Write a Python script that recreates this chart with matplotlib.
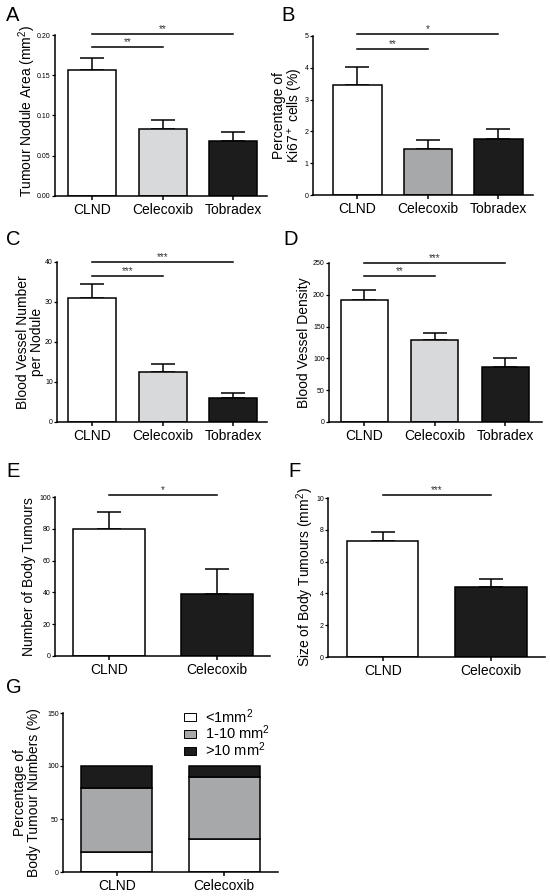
import numpy as np
import matplotlib.pyplot as plt
from matplotlib.patches import Patch

plt.rcParams['font.family'] = ['Liberation Sans', 'DejaVu Sans']
plt.rcParams['mathtext.fontset'] = 'custom'
plt.rcParams['mathtext.rm'] = 'Liberation Sans'
plt.rcParams['mathtext.it'] = 'Liberation Sans:italic'

# data
groups3 = ['CLND', 'Celecoxib', 'Tobradex']
groups2 = ['CLND', 'Celecoxib']

area_mean = [0.156, 0.083, 0.068]
area_err = [0.016, 0.012, 0.011]

ki67_mean = [3.45, 1.45, 1.75]
ki67_err = [0.58, 0.27, 0.32]

vessel_num_mean = [31.0, 12.5, 6.0]
vessel_num_err = [3.5, 2.0, 1.3]

vessel_dens_mean = [192, 129, 86]
vessel_dens_err = [16, 11, 15]

body_num_mean = [80, 39]
body_num_err = [10.5, 16]

body_size_mean = [7.3, 4.4]
body_size_err = [0.55, 0.52]

small_pct = [19, 31]
mid_pct = [60, 59]
large_pct = [21, 10]

W, H = 550, 896
fig = plt.figure(figsize=(W / 100, H / 100), dpi=100)

WHITE = '#ffffff'
LIGHT = '#d8d9da'
MIDG = '#a7a8aa'
DARK = '#1c1c1c'


def make_axes(left, right, top, bottom):
    ax = fig.add_axes([left / W, 1 - bottom / H, (right - left) / W, (bottom - top) / H])
    for s in ['top', 'right']:
        ax.spines[s].set_visible(False)
    for s in ['left', 'bottom']:
        ax.spines[s].set_linewidth(1.1)
    ax.tick_params(axis='y', length=2.5, width=0.9, labelsize=5, pad=0.5)
    ax.tick_params(axis='x', length=3, width=1.1, labelsize=10, pad=2)
    return ax


def bars(ax, groups, means, errs, colors, width):
    x = np.arange(len(groups))
    ax.bar(x, means, width=width, color=colors, edgecolor='black', linewidth=1.1, zorder=2)
    ax.errorbar(x, means, yerr=[np.zeros(len(means)), errs], fmt='none', ecolor='black',
                elinewidth=1.1, capsize=8.5, capthick=1.1, zorder=1)
    ax.set_xticks(x)
    ax.set_xticklabels(groups)


def sig(ax, x1, y, label, fs=7):
    ax.plot([0, x1], [y, y], color='black', lw=1.1, clip_on=False)
    ax.text(x1 / 2, y, label, ha='center', va='bottom', fontsize=fs, color='#333333',
            clip_on=False)


def letter(x, y, s):
    fig.text(x / W, 1 - y / H, s, fontsize=14.5, ha='left', va='top')


# A
ax = make_axes(55, 267, 35, 196)
bars(ax, groups3, area_mean, area_err, [WHITE, LIGHT, DARK], 0.68)
ax.set_xlim(-0.525, 2.48)
ax.set_ylim(0, 0.20)
ax.set_yticks([0, 0.05, 0.10, 0.15, 0.20])
ax.set_yticklabels(['0.00', '0.05', '0.10', '0.15', '0.20'])
sig(ax, 1, 0.185, '**')
sig(ax, 2, 0.201, '**')
ax.set_ylabel('Tumour Nodule Area (mm$^2$)', fontsize=10)
ax.yaxis.set_label_coords((38 - 55) / 212, 0.53)
letter(6, 6, 'A')

# B
ax = make_axes(313, 533, 36, 195)
bars(ax, groups3, ki67_mean, ki67_err, [WHITE, MIDG, DARK], 0.69)
ax.set_xlim(-0.63, 2.49)
ax.set_ylim(0, 5)
ax.set_yticks(range(6))
sig(ax, 1, 4.59, '**')
sig(ax, 2, 5.05, '*')
ax.set_ylabel('Percentage of\nKi67$^+$ cells (%)', fontsize=10, linespacing=1.0)
ax.yaxis.set_label_coords((305 - 313) / 220, 0.5)
letter(281, 6, 'B')

# C
ax = make_axes(57, 267, 262, 422)
bars(ax, groups3, vessel_num_mean, vessel_num_err, [WHITE, LIGHT, DARK], 0.68)
ax.set_xlim(-0.5, 2.48)
ax.set_ylim(0, 40)
ax.set_yticks(range(0, 41, 10))
sig(ax, 1, 36.6, '***')
sig(ax, 2, 40, '***')
ax.set_ylabel('Blood Vessel Number\nper Nodule', fontsize=10, linespacing=1.0)
ax.yaxis.set_label_coords((44 - 57) / 210, 0.5)
letter(6, 230, 'C')

# D
ax = make_axes(329, 542, 263, 422)
bars(ax, groups3, vessel_dens_mean, vessel_dens_err, [WHITE, LIGHT, DARK], 0.67)
ax.set_xlim(-0.5, 2.52)
ax.set_ylim(0, 250)
ax.set_yticks(range(0, 251, 50))
sig(ax, 1, 230, '**')
sig(ax, 2, 250, '***')
ax.set_ylabel('Blood Vessel Density', fontsize=10)
ax.yaxis.set_label_coords((311 - 329) / 213, 0.5)
letter(283, 230, 'D')

# E
ax = make_axes(55, 270, 497, 656)
bars(ax, groups2, body_num_mean, body_num_err, [WHITE, DARK], 0.667)
ax.set_xlim(-0.5, 1.49)
ax.set_ylim(0, 100)
ax.set_yticks(range(0, 101, 20))
sig(ax, 1, 101.5, '*')
ax.set_ylabel('Number of Body Tumours', fontsize=10)
ax.yaxis.set_label_coords((36 - 55) / 215, 0.5)
letter(6, 462, 'E')

# F
ax = make_axes(328, 545, 498, 657)
bars(ax, groups2, body_size_mean, body_size_err, [WHITE, DARK], 0.66)
ax.set_xlim(-0.505, 1.5)
ax.set_ylim(0, 10)
ax.set_yticks(range(0, 11, 2))
sig(ax, 1, 10.2, '***')
ax.set_ylabel('Size of Body Tumours (mm$^2$)', fontsize=10)
ax.yaxis.set_label_coords((316 - 328) / 217, 0.5)
letter(288, 462, 'F')

# G
ax = make_axes(63, 278, 713, 872)
x = np.arange(len(groups2))
bottom_mid = np.array(small_pct)
bottom_large = bottom_mid + np.array(mid_pct)
ax.bar(x, small_pct, width=0.66, color=WHITE, edgecolor='black', linewidth=1.1)
ax.bar(x, mid_pct, bottom=bottom_mid, width=0.66, color=MIDG, edgecolor='black', linewidth=1.1)
ax.bar(x, large_pct, bottom=bottom_large, width=0.66, color=DARK, edgecolor='black', linewidth=1.1)
ax.set_xticks(x)
ax.set_xticklabels(groups2)
ax.set_xlim(-0.5, 1.5)
ax.set_ylim(0, 150)
ax.set_yticks([0, 50, 100, 150])
ax.set_ylabel('Percentage of\nBody Tumour Numbers (%)', fontsize=10, linespacing=1.0)
ax.yaxis.set_label_coords((41 - 63) / 215, 0.5)
handles = [Patch(facecolor=WHITE, edgecolor='black', linewidth=0.7, label='<1mm$^2$'),
           Patch(facecolor=MIDG, edgecolor='black', linewidth=0.7, label='1-10 mm$^2$'),
           Patch(facecolor=DARK, edgecolor='black', linewidth=0.7, label='>10 mm$^2$')]
ax.legend(handles=handles, loc='upper left', bbox_to_anchor=(184 / W, 1 - 707 / H),
          bbox_transform=fig.transFigure, frameon=False, fontsize=10.5,
          handlelength=0.85, handleheight=0.45, handletextpad=0.6, labelspacing=-0.12,
          borderpad=0, borderaxespad=0)
letter(6, 678, 'G')

fig.savefig('out.png', dpi=100)
